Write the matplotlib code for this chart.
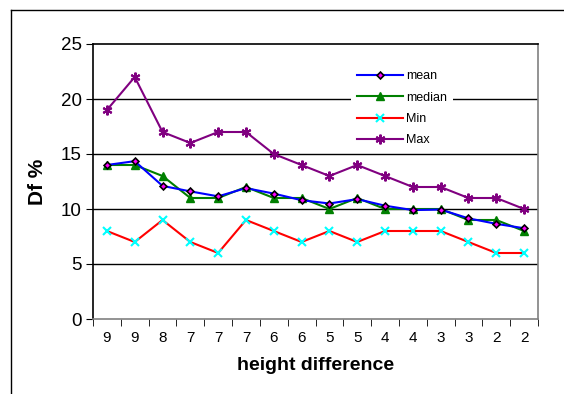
import matplotlib
matplotlib.use('Agg')
import matplotlib.pyplot as plt
from matplotlib.lines import Line2D

plt.rcParams['font.family'] = ['Liberation Sans', 'DejaVu Sans']

### data ###
xlabels = ['9', '9', '8', '7', '7', '7', '6', '6', '5', '5', '4', '4', '3', '3', '2', '2']
mean_v = [14.0, 14.35, 12.1, 11.6, 11.15, 11.9, 11.4, 10.8, 10.5, 10.9, 10.3, 9.9, 9.95, 9.15, 8.65, 8.25]
median_v = [14, 14, 13, 11, 11, 12, 11, 11, 10, 11, 10, 10, 10, 9, 9, 8]
min_v = [8, 7, 9, 7, 6, 9, 8, 7, 8, 7, 8, 8, 8, 7, 6, 6]
max_v = [19, 22, 17, 16, 17, 17, 15, 14, 13, 14, 13, 12, 12, 11, 11, 10]

fs = 12
fssml = 9

fig = plt.figure(figsize=(5.64, 3.94), dpi=100)
ax = fig.add_axes([93/564., 1-319/394., 445/564., 275/394.])

x = list(range(len(xlabels)))
ax.plot(x, mean_v, color='blue', lw=1.5, marker='D', ms=3.5, mfc='magenta', mec='black', mew=1.2, label='mean', zorder=5)
ax.plot(x, median_v, color='green', lw=1.5, marker='^', ms=6, mfc='green', mec='green', label='median', zorder=4)
ax.plot(x, min_v, color='red', lw=1.5, marker='x', ms=6, mec='cyan', mew=1.5, label='Min', zorder=4)
ax.plot(x, max_v, color='purple', lw=1.5, marker=(6, 2, 0), ms=7, mec='purple', mew=1.5, label='Max', zorder=4)

ax.set_xlim(-0.5, len(xlabels) - 0.5)
ax.set_ylim(0, 25)
ax.set_yticks([0, 5, 10, 15, 20, 25])
for yv in [5, 10, 15, 20]:
	ax.axhline(yv, color='black', lw=1, zorder=1)
ax.set_xticks(x)
ax.set_xticklabels(xlabels, fontsize=11)
ax.set_xticks([i - 0.5 for i in range(len(xlabels) + 1)], minor=True)
ax.tick_params(axis='x', which='major', length=0, pad=9)
ax.tick_params(axis='x', which='minor', length=5, direction='out')
ax.tick_params(axis='y', labelsize=fs + 1.5, length=5, direction='out', pad=3)

for s in ['left', 'top']:
	ax.spines[s].set_color('black')
for s in ['right', 'bottom']:
	ax.spines[s].set_color('#808080')
for s in ax.spines:
	ax.spines[s].set_linewidth(1.2)

ax.set_ylabel('Df %', fontsize=fs + 3, fontweight='bold', labelpad=10)
ax.set_xlabel('height difference', fontsize=fs + 2, fontweight='bold', labelpad=8)

leg = ax.legend(loc='upper left', bbox_to_anchor=(0.565, 0.95), fontsize=fssml, frameon=True,
	handlelength=3.7, labelspacing=0.75, handletextpad=0.2, borderpad=0.5)
leg.get_frame().set_edgecolor('none')
leg.get_frame().set_facecolor('white')
leg.get_frame().set_alpha(1)

# outer chart border
fig.add_artist(Line2D([11/564., 11/564.], [0, 1-10/394.], color='black', lw=1, transform=fig.transFigure))
fig.add_artist(Line2D([11/564., 1], [1-10/394., 1-10/394.], color='black', lw=1, transform=fig.transFigure))

plt.savefig('out.png', dpi=100)
plt.close()
